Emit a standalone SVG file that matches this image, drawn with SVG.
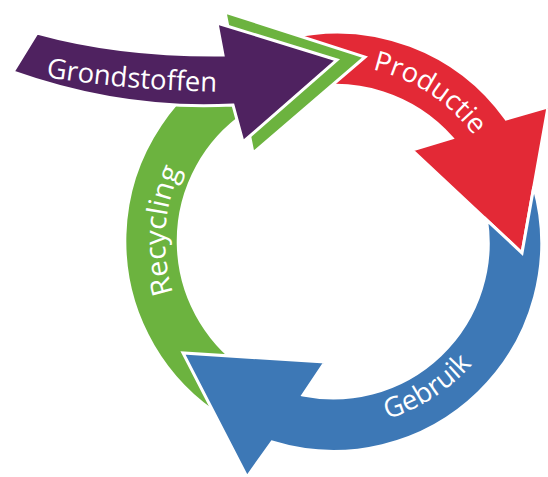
<svg xmlns="http://www.w3.org/2000/svg" width="548" height="477" viewBox="0 0 548 477">
  <defs>
    <style>
      .arrow { stroke: #ffffff; stroke-width: 3; stroke-linejoin: miter; stroke-miterlimit: 4; }
      .red { fill: #e32936; }
      .green { fill: #6cb33f; }
      .blue { fill: #3d78b6; }
      .purple { fill: #4f2260; }
      .label { font-family: "Open Sans", "Noto Sans", "Liberation Sans", sans-serif; font-size: 27.5px; fill: #ffffff; }
    </style>
    <path id="path-grond" d="M 46,77 Q 125,90 224,92"/>
    <path id="path-prod" d="M 372.6,69.5 A 176 176 0 0 1 498.4,180.8"/>
    <path id="path-gebr" d="M 387.4,418.9 A 186 186 0 0 0 507.8,304.6"/>
    <path id="path-recy" d="M 173.3,292.9 A 168 168 0 0 1 204.3,133.0"/>
  </defs>
  <rect width="548" height="477" fill="#ffffff"/>

  <g id="node-productie">
    <path class="arrow red" d="M 289.8,37.5 A 208 208 0 0 1 506,119 L 548,107 L 522,253 L 412,150 L 452,138 A 155 155 0 0 0 300.8,89.4 Z"/>
    <text class="label"><textPath href="#path-prod">Productie</textPath></text>
  </g>

  <g id="node-recycling">
    <path class="arrow green" d="M 222.8,417.4 A 208 208 0 0 1 234.1,57.8 L 225,12 L 365,57 L 253,153 L 245.2,113.5 A 155 155 0 0 0 250.9,372.4 Z"/>
    <text class="label" style="font-size:28.5px"><textPath href="#path-recy" textLength="126" lengthAdjust="spacingAndGlyphs">Recycling</textPath></text>
  </g>

  <g id="node-gebruik">
    <path class="arrow blue" d="M 533.8,186.7 A 208 208 0 0 1 272,442 L 247,477 L 183,353 L 325,362 L 303,395 A 155 155 0 0 0 486.5,219.8 L 522,253 Z"/>
    <text class="label"><textPath href="#path-gebr">Gebruik</textPath></text>
  </g>

  <g id="node-grondstoffen">
    <path class="arrow purple" d="M 37,33 Q 120,56 223,55 L 217,23 L 337,60 L 243,142 L 233,105 Q 123,111 13,72 Z"/>
    <text class="label"><textPath href="#path-grond">Grondstoffen</textPath></text>
  </g>

  <g id="connectors"></g>
</svg>
